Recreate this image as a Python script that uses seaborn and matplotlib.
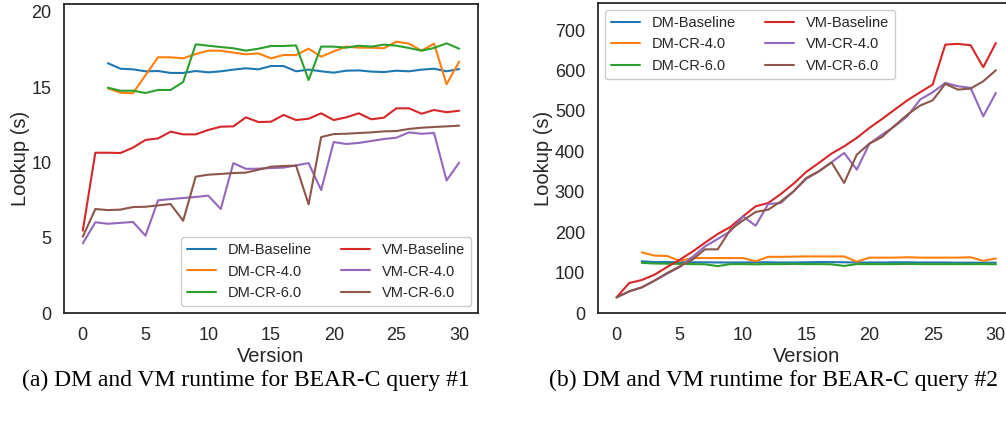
import numpy as np
import pandas as pd
import matplotlib
matplotlib.use("Agg")
import matplotlib.pyplot as plt
import seaborn as sns

# ---------------- data ----------------
versions = list(range(31))
dm_versions = list(range(2, 31))

series_names = ["DM-Baseline", "DM-CR-4.0", "DM-CR-6.0",
                "VM-Baseline", "VM-CR-4.0", "VM-CR-6.0"]
series_colors = ["#1f77b4", "#ff7f0e", "#2ca02c", "#d62728", "#9467bd", "#8c564b"]

# (a) BEAR-C query #1
q1_dm_base = [16.6, 16.23, 16.19, 16.06, 16.08, 15.95, 15.95, 16.08, 15.99, 16.06,
              16.17, 16.26, 16.19, 16.41, 16.41, 16.06, 16.17, 16.06, 15.97, 16.10,
              16.12, 16.04, 16.01, 16.10, 16.06, 16.17, 16.23, 16.06, 16.21]
q1_dm_cr4 = [14.93, 14.64, 14.6, 15.8, 16.99, 16.99, 16.92, 17.21, 17.43, 17.43,
             17.3, 17.19, 17.25, 16.92, 17.14, 17.14, 17.56, 17.03, 17.38, 17.7,
             17.63, 17.63, 17.59, 18.03, 17.9, 17.43, 17.9, 15.2, 16.7]
q1_dm_cr6 = [14.97, 14.77, 14.77, 14.62, 14.82, 14.82, 15.35, 17.85, 17.76, 17.67,
             17.59, 17.43, 17.56, 17.74, 17.74, 17.78, 15.48, 17.7, 17.7, 17.63,
             17.76, 17.7, 17.83, 17.76, 17.61, 17.43, 17.61, 17.92, 17.56]
q1_vm_base = [5.47, 10.65, 10.65, 10.63, 10.99, 11.5, 11.6, 12.05, 11.87, 11.87,
              12.16, 12.38, 12.4, 13.0, 12.69, 12.71, 13.16, 12.82, 12.91, 13.27,
              12.82, 13.0, 13.27, 12.87, 12.98, 13.6, 13.6, 13.24, 13.49, 13.34, 13.44]
q1_vm_cr4 = [4.63, 6.03, 5.93, 5.99, 6.05, 5.14, 7.49, 7.57, 7.64, 7.71,
             7.8, 6.91, 9.96, 9.58, 9.59, 9.63, 9.66, 9.81, 9.96, 8.17,
             11.36, 11.23, 11.3, 11.43, 11.56, 11.65, 12.0, 11.91, 11.96, 8.81, 9.99]
q1_vm_cr6 = [5.07, 6.91, 6.84, 6.87, 7.04, 7.06, 7.15, 7.24, 6.13, 9.06,
             9.19, 9.24, 9.3, 9.33, 9.52, 9.72, 9.77, 9.79, 7.22, 11.69,
             11.89, 11.91, 11.96, 12.0, 12.07, 12.09, 12.23, 12.31, 12.36, 12.4, 12.45]

# (b) BEAR-C query #2
q2_dm_base = [128, 126, 126, 125.5, 125.5, 125.5, 125, 125, 125, 125.5,
              125.5, 125, 125, 125.5, 126, 126, 125.5, 125, 125, 125,
              125.5, 125.5, 125, 125, 125, 124.5, 124.5, 124.5, 124.5]
q2_dm_cr4 = [150, 142, 141, 129, 136, 136, 136, 136, 136, 128,
             139, 139, 139.5, 140, 140, 140, 140, 127, 137, 137,
             137, 138, 137, 137, 137, 137, 138, 129, 135]
q2_dm_cr6 = [124, 122.5, 122, 121.5, 121, 120.5, 116, 121, 121, 120.5,
             121, 121, 121.5, 121, 121, 120.5, 116.5, 121, 121, 121,
             121, 121.5, 121, 121, 121, 121, 121, 121, 120.5]
q2_vm_base = [38.7, 74.2, 81.6, 94.8, 113.8, 131.9, 151.7, 174, 195.5, 212.8,
              239.1, 263.9, 272.3, 294.6, 320, 349, 371.3, 394.3, 412.4, 433.2,
              458, 480, 503.2, 526.2, 546, 565, 664, 665.8, 662.4, 608, 668]
q2_vm_cr4 = [38.7, 53.5, 63.4, 80, 97.3, 113.8, 138.6, 164.9, 183.2, 202,
             239, 216, 269.8, 272.3, 301, 331.7, 350.5, 372.8, 396, 354.7,
             419, 441.3, 462, 486.6, 528, 546, 569.3, 561, 557, 486.6, 544.6]
q2_vm_cr6 = [38.7, 53.5, 63.4, 80, 99, 115.4, 132, 157.5, 157.5, 206,
             229, 250, 255.7, 276.3, 301, 334, 350.5, 372.8, 321.8, 391.8,
             419, 435.6, 463.6, 490.8, 513, 526.2, 566.8, 552.7, 555.2, 573.3, 600.5]

x_ticks = [0, 5, 10, 15, 20, 25, 30]
q1_y_ticks = [0, 5, 10, 15, 20]
q2_y_ticks = [0, 100, 200, 300, 400, 500, 600, 700]
x_label = "Version"
y_label = "Lookup (s)"
caption_a = "(a) DM and VM runtime for BEAR-C query #1"
caption_b = "(b) DM and VM runtime for BEAR-C query #2"


def build_frame(dm_lists, vm_lists):
    rows = []
    for name, vals in zip(series_names[:3], dm_lists):
        for v, y in zip(dm_versions, vals):
            rows.append((v, y, name))
    for name, vals in zip(series_names[3:], vm_lists):
        for v, y in zip(versions, vals):
            rows.append((v, y, name))
    return pd.DataFrame(rows, columns=["Version", "Lookup", "Series"])


df1 = build_frame([q1_dm_base, q1_dm_cr4, q1_dm_cr6], [q1_vm_base, q1_vm_cr4, q1_vm_cr6])
df2 = build_frame([q2_dm_base, q2_dm_cr4, q2_dm_cr6], [q2_vm_base, q2_vm_cr4, q2_vm_cr6])

# ---------------- style ----------------
sns.set_theme(style="white")
plt.rcParams["font.family"] = ["Liberation Sans", "DejaVu Sans"]
plt.rcParams["axes.edgecolor"] = "#262626"
plt.rcParams["axes.linewidth"] = 1.3

palette = dict(zip(series_names, series_colors))

fig = plt.figure(figsize=(10.06, 4.23), dpi=100)
ax1 = fig.add_axes([0.0636, 0.26, 0.4115, 0.7305])
ax2 = fig.add_axes([0.594, 0.26, 0.4148, 0.733])

for ax, df, yt, ylim, loc in [
    (ax1, df1, q1_y_ticks, (0, 20.53), "lower right"),
    (ax2, df2, q2_y_ticks, (0, 767), "upper left"),
]:
    sns.lineplot(data=df, x="Version", y="Lookup", hue="Series",
                 hue_order=series_names, palette=palette, errorbar=None,
                 linewidth=1.5, ax=ax)
    ax.set_xlim(-1.5, 31.5)
    ax.set_ylim(*ylim)
    ax.set_xticks(x_ticks)
    ax.set_yticks(yt)
    ax.tick_params(axis="x", labelsize=13, colors="#262626", pad=4)
    ax.tick_params(axis="y", labelsize=13, colors="#262626", pad=3)
    ax.set_xlabel(x_label, fontsize=14.5, color="#262626", labelpad=2)
    ax.set_ylabel(y_label, fontsize=14.5, color="#262626", labelpad=1)
    handles, labels = ax.get_legend_handles_labels()
    ax.legend(handles, labels, ncol=2, loc=loc, fontsize=10.5,
              frameon=True, edgecolor="0.8", framealpha=1.0,
              borderaxespad=0.5)

fig.text(0.244, 0.101, caption_a, ha="center", va="center",
         fontsize=17, family=["Liberation Serif", "DejaVu Serif"], color="black")
fig.text(0.769, 0.101, caption_b, ha="center", va="center",
         fontsize=17, family=["Liberation Serif", "DejaVu Serif"], color="black")

fig.savefig("out.png", dpi=100)
